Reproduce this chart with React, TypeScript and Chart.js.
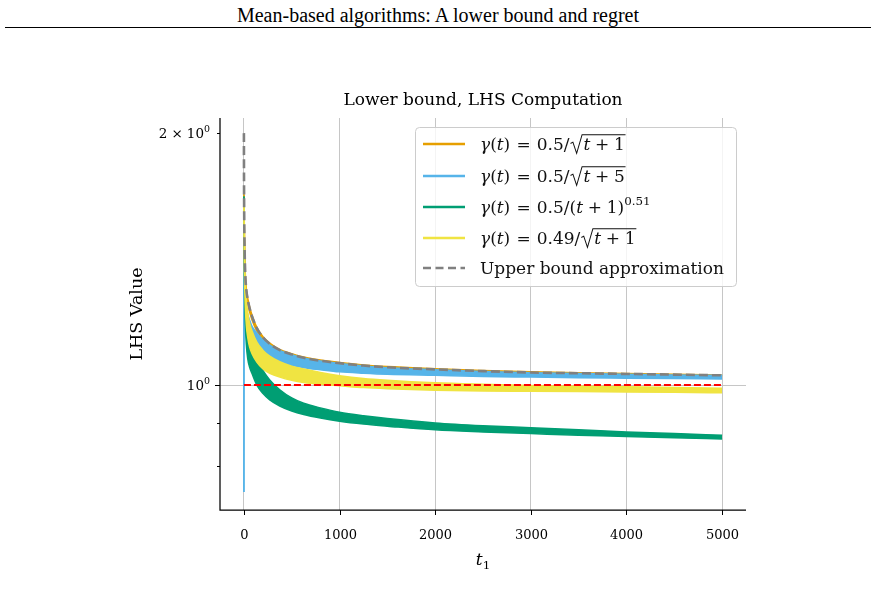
import React, { useEffect, useRef } from 'react';
import { Chart, registerables } from 'chart.js';

Chart.register(...registerables);

// Sample positions t1 shared by every curve
const T = [0, 1, 3, 8, 15, 25, 40, 60, 85, 135, 200, 270, 375, 500, 625, 800, 1000, 1250, 1500, 2000, 2500, 3000, 3500, 4000, 4500, 5000];

// gamma(t) = 0.5/sqrt(t+1): band envelope
const orangeHigh = [1.69, 1.68, 1.6, 1.445, 1.355, 1.305, 1.27, 1.24, 1.212, 1.172, 1.142, 1.122, 1.103, 1.09, 1.08, 1.071, 1.064, 1.057, 1.052, 1.046, 1.041, 1.037, 1.034, 1.032, 1.03, 1.028];
const orangeLow = [1.69, 1.64, 1.56, 1.42, 1.335, 1.285, 1.25, 1.222, 1.196, 1.16, 1.131, 1.112, 1.094, 1.082, 1.072, 1.064, 1.057, 1.051, 1.046, 1.04, 1.036, 1.032, 1.03, 1.028, 1.026, 1.025];

// gamma(t) = 0.5/sqrt(t+5)
const blueHigh = [0.745, 1.36, 1.33, 1.29, 1.26, 1.24, 1.215, 1.195, 1.175, 1.154, 1.132, 1.116, 1.1, 1.087, 1.077, 1.068, 1.061, 1.054, 1.049, 1.043, 1.038, 1.034, 1.032, 1.03, 1.028, 1.027];
const blueLow = [0.745, 1.34, 1.27, 1.22, 1.19, 1.165, 1.145, 1.13, 1.118, 1.105, 1.09, 1.078, 1.066, 1.056, 1.049, 1.043, 1.037, 1.033, 1.03, 1.027, 1.024, 1.022, 1.02, 1.019, 1.018, 1.017];

// gamma(t) = 0.5/(t+1)^0.51
const greenHigh = [1.68, 1.62, 1.5, 1.36, 1.28, 1.22, 1.17, 1.135, 1.108, 1.072, 1.04, 1.014, 0.987, 0.965, 0.951, 0.939, 0.928, 0.919, 0.912, 0.901, 0.894, 0.889, 0.884, 0.879, 0.875, 0.871];
const greenLow = [1.68, 1.56, 1.42, 1.27, 1.18, 1.12, 1.075, 1.05, 1.032, 1.0, 0.977, 0.96, 0.944, 0.931, 0.922, 0.913, 0.905, 0.898, 0.893, 0.884, 0.879, 0.875, 0.871, 0.868, 0.865, 0.862];

// gamma(t) = 0.49/sqrt(t+1)
const yellowHigh = [1.66, 1.64, 1.56, 1.42, 1.33, 1.27, 1.22, 1.185, 1.16, 1.125, 1.1, 1.083, 1.066, 1.053, 1.045, 1.035, 1.026, 1.018, 1.013, 1.006, 1.002, 0.999, 0.997, 0.995, 0.993, 0.991];
const yellowLow = [1.66, 1.55, 1.45, 1.32, 1.24, 1.18, 1.14, 1.11, 1.09, 1.065, 1.045, 1.033, 1.022, 1.013, 1.007, 1.002, 0.998, 0.993, 0.99, 0.986, 0.984, 0.983, 0.982, 0.981, 0.98, 0.979];

// Upper bound approximation
const upperBound = [2.0, 1.78, 1.6, 1.44, 1.35, 1.3, 1.265, 1.235, 1.208, 1.17, 1.14, 1.12, 1.101, 1.088, 1.078, 1.069, 1.062, 1.055, 1.05, 1.044, 1.039, 1.035, 1.033, 1.031, 1.029, 1.027];

// Reference level and its extent
const REF_LEVEL = 1.0;
const REF_RANGE = [0, 5000];

const X_TICKS = [0, 1000, 2000, 3000, 4000, 5000];
const Y_MAJOR = [1];
const Y_MINOR = [0.8, 0.9, 2];

const ORANGE = '#E69F00';
const BLUE = '#56B4E9';
const GREEN = '#009E73';
const YELLOW = '#F0E442';
const GRAY = '#808080';

type Tok =
  | { k: 'i' | 'r' | 'sup' | 'sub'; s: string }
  | { k: 'sp'; w: number }
  | { k: 'sqrt'; c: Tok[] };

const gammaHead: Tok[] = [
  { k: 'i', s: 'γ' }, { k: 'r', s: '(' }, { k: 'i', s: 't' }, { k: 'r', s: ')' },
  { k: 'sp', w: 0.36 }, { k: 'r', s: '=' }, { k: 'sp', w: 0.36 },
];
const tPlus = (n: string): Tok[] => [{ k: 'i', s: 't' }, { k: 'sp', w: 0.28 }, { k: 'r', s: '+' }, { k: 'sp', w: 0.28 }, { k: 'r', s: n }];

const legendItems: { color: string; dashed: boolean; label: Tok[] }[] = [
  { color: ORANGE, dashed: false, label: [...gammaHead, { k: 'r', s: '0.5/' }, { k: 'sqrt', c: tPlus('1') }] },
  { color: BLUE, dashed: false, label: [...gammaHead, { k: 'r', s: '0.5/' }, { k: 'sqrt', c: tPlus('5') }] },
  { color: GREEN, dashed: false, label: [...gammaHead, { k: 'r', s: '0.5/(' }, ...tPlus('1'), { k: 'r', s: ')' }, { k: 'sup', s: '0.51' }] },
  { color: YELLOW, dashed: false, label: [...gammaHead, { k: 'r', s: '0.49/' }, { k: 'sqrt', c: tPlus('1') }] },
  { color: GRAY, dashed: true, label: [{ k: 'r', s: 'Upper bound approximation' }] },
];

const SERIF = '"DejaVu Serif", serif';
const font = (style: string, size: number) => `${style} ${size}px ${SERIF}`;

function drawMath(ctx: CanvasRenderingContext2D, toks: Tok[], x: number, y: number, size: number, draw = true): number {
  let cx = x;
  for (const t of toks) {
    if (t.k === 'sp') {
      cx += t.w * size;
      continue;
    }
    if (t.k === 'sqrt') {
      const innerW = drawMath(ctx, t.c, 0, 0, size, false);
      const rw = 0.82 * size;
      if (draw) {
        ctx.beginPath();
        ctx.lineWidth = Math.max(1, size * 0.06);
        ctx.moveTo(cx + 0.06 * size, y - 0.38 * size);
        ctx.lineTo(cx + 0.2 * size, y - 0.46 * size);
        ctx.lineTo(cx + 0.42 * size, y + 0.2 * size);
        ctx.lineTo(cx + 0.74 * size, y - 0.9 * size);
        ctx.lineTo(cx + rw + innerW + 0.04 * size, y - 0.9 * size);
        ctx.stroke();
        drawMath(ctx, t.c, cx + rw, y, size, true);
      }
      cx += rw + innerW + 0.06 * size;
      continue;
    }
    let sz = size;
    let dy = 0;
    let style = 'normal';
    if (t.k === 'i') style = 'italic';
    if (t.k === 'sup') { sz = size * 0.7; dy = -0.45 * size; }
    if (t.k === 'sub') { sz = size * 0.7; dy = 0.22 * size; }
    ctx.font = font(style, sz);
    if (draw) ctx.fillText(t.s, cx, y + dy);
    cx += ctx.measureText(t.s).width;
  }
  return cx - x;
}

const decor = {
  id: 'decor',
  afterDraw(chart: any) {
    const { ctx, chartArea: a } = chart;
    const xs = chart.scales.x;
    const ys = chart.scales.y;
    ctx.save();
    ctx.fillStyle = '#000';
    ctx.strokeStyle = '#000';
    ctx.textBaseline = 'alphabetic';

    // spines
    ctx.lineWidth = 1.25;
    ctx.beginPath();
    ctx.moveTo(a.left, a.top);
    ctx.lineTo(a.left, a.bottom);
    ctx.lineTo(a.right, a.bottom);
    ctx.stroke();

    // x ticks and labels
    ctx.lineWidth = 1;
    ctx.textAlign = 'center';
    ctx.font = font('normal', 13);
    for (const v of X_TICKS) {
      const px = Math.round(xs.getPixelForValue(v)) + 0.5;
      ctx.beginPath();
      ctx.moveTo(px, a.bottom);
      ctx.lineTo(px, a.bottom + 5);
      ctx.stroke();
      ctx.fillText(String(v), px, a.bottom + 29);
    }

    // y ticks
    for (const v of [...Y_MAJOR, ...Y_MINOR]) {
      const py = Math.round(ys.getPixelForValue(v)) + 0.5;
      const len = Y_MAJOR.includes(v) ? 5 : 3;
      ctx.beginPath();
      ctx.moveTo(a.left, py);
      ctx.lineTo(a.left - len, py);
      ctx.stroke();
    }
    ctx.textAlign = 'left';
    const yLabels: { v: number; toks: Tok[] }[] = [
      { v: 2, toks: [{ k: 'r', s: '2' }, { k: 'sp', w: 0.3 }, { k: 'r', s: '×' }, { k: 'sp', w: 0.3 }, { k: 'r', s: '10' }, { k: 'sup', s: '0' }] },
      { v: 1, toks: [{ k: 'r', s: '10' }, { k: 'sup', s: '0' }] },
    ];
    for (const l of yLabels) {
      const w = drawMath(ctx, l.toks, 0, 0, 13.5, false);
      const py = ys.getPixelForValue(l.v);
      drawMath(ctx, l.toks, a.left - 10 - w, py + 5, 13.5);
    }

    // axis titles
    ctx.textAlign = 'center';
    ctx.font = font('normal', 17);
    ctx.fillText('Lower bound, LHS Computation', (a.left + a.right) / 2, a.top - 13);
    ctx.save();
    ctx.translate(137, (a.top + a.bottom) / 2);
    ctx.rotate(-Math.PI / 2);
    ctx.textBaseline = 'middle';
    ctx.font = font('normal', 17.5);
    ctx.fillText('LHS Value', 0, 0);
    ctx.restore();
    ctx.textAlign = 'left';
    const xTitle: Tok[] = [{ k: 'i', s: 't' }, { k: 'sub', s: '1' }];
    const xw = drawMath(ctx, xTitle, 0, 0, 17, false);
    drawMath(ctx, xTitle, (a.left + a.right) / 2 - xw / 2, a.bottom + 55, 17);

    // legend
    const bx = 415.5, by = 127.5, bw = 321, bh = 159;
    ctx.beginPath();
    ctx.roundRect(bx, by, bw, bh, 4);
    ctx.fillStyle = 'rgba(255,255,255,0.8)';
    ctx.fill();
    ctx.strokeStyle = '#cccccc';
    ctx.lineWidth = 1;
    ctx.stroke();
    const rows = [144, 176, 207, 238, 268];
    legendItems.forEach((it, i) => {
      const cy = rows[i];
      ctx.beginPath();
      ctx.strokeStyle = it.color;
      ctx.lineWidth = 2.6;
      ctx.setLineDash(it.dashed ? [8, 4.5] : []);
      ctx.moveTo(423, cy);
      ctx.lineTo(465, cy);
      ctx.stroke();
      ctx.setLineDash([]);
      ctx.fillStyle = '#111';
      ctx.strokeStyle = '#111';
      drawMath(ctx, it.label, 480, cy + 6, 17);
    });
    ctx.restore();
  },
};

function band(high: number[], low: number[], color: string, order: number) {
  return [
    {
      data: T.map((t, i) => ({ x: t, y: high[i] })),
      borderColor: color,
      backgroundColor: color,
      borderWidth: 1.5,
      fill: false,
      order,
    },
    {
      data: T.map((t, i) => ({ x: t, y: low[i] })),
      borderColor: color,
      backgroundColor: color,
      borderWidth: 1.5,
      fill: '-1',
      order,
    },
  ];
}

export default function App() {
  const ref = useRef<HTMLCanvasElement | null>(null);

  useEffect(() => {
    if (!ref.current) return;
    const datasets: any[] = [
      ...band(orangeHigh, orangeLow, ORANGE, 6),
      ...band(blueHigh, blueLow, BLUE, 5),
      ...band(greenHigh, greenLow, GREEN, 4),
      ...band(yellowHigh, yellowLow, YELLOW, 3),
      {
        data: T.map((t, i) => ({ x: t, y: upperBound[i] })),
        borderColor: GRAY,
        borderWidth: 2.6,
        borderDash: [9, 4],
        fill: false,
        order: 2,
      },
      {
        data: REF_RANGE.map((t) => ({ x: t, y: REF_LEVEL })),
        borderColor: '#ff0000',
        borderWidth: 1.8,
        borderDash: [7, 3],
        fill: false,
        order: 1,
      },
    ];

    const chart = new Chart(ref.current, {
      type: 'line',
      data: { datasets },
      options: {
        animation: false,
        responsive: false,
        events: [],
        layout: { padding: { left: 220, top: 118, right: 130, bottom: 89 } },
        plugins: { legend: { display: false }, tooltip: { enabled: false } },
        elements: {
          point: { radius: 0 },
          line: { cubicInterpolationMode: 'monotone' },
        },
        scales: {
          x: {
            type: 'linear',
            min: -250,
            max: 5250,
            afterBuildTicks: (s: any) => { s.ticks = X_TICKS.map((value) => ({ value })); },
            afterFit: (s: any) => { s.height = 0; },
            ticks: { display: false },
            grid: { color: '#c6c6c6', lineWidth: 1, drawTicks: false },
            border: { display: false },
          },
          y: {
            type: 'logarithmic',
            bounds: 'data',
            min: 0.709,
            max: 2.085,
            afterBuildTicks: (s: any) => { s.ticks = [...Y_MINOR, ...Y_MAJOR].sort((p, q) => p - q).map((value) => ({ value })); },
            afterFit: (s: any) => { s.width = 0; },
            ticks: { display: false },
            grid: {
              color: (c: any) => (c.tick && Y_MAJOR.includes(c.tick.value) ? '#c6c6c6' : 'rgba(0,0,0,0)'),
              lineWidth: 1,
              drawTicks: false,
            },
            border: { display: false },
          },
        },
      } as any,
      plugins: [decor],
    });
    return () => chart.destroy();
  }, []);

  return (
    <div style={{ position: 'absolute', left: 0, top: 0, width: 876, height: 599, background: '#fff', overflow: 'hidden' }}>
      <div
        style={{
          position: 'absolute', left: 0, top: 3, width: 876, textAlign: 'center',
          fontFamily: '"Liberation Serif", serif', fontSize: 20, lineHeight: '24px', color: '#000',
        }}
      >
        Mean-based algorithms: A lower bound and regret
      </div>
      <div style={{ position: 'absolute', left: 5, top: 27, width: 866, borderTop: '1.3px solid #000' }} />
      <canvas ref={ref} width={876} height={599} style={{ position: 'absolute', left: 0, top: 0, display: 'block' }} />
    </div>
  );
}
